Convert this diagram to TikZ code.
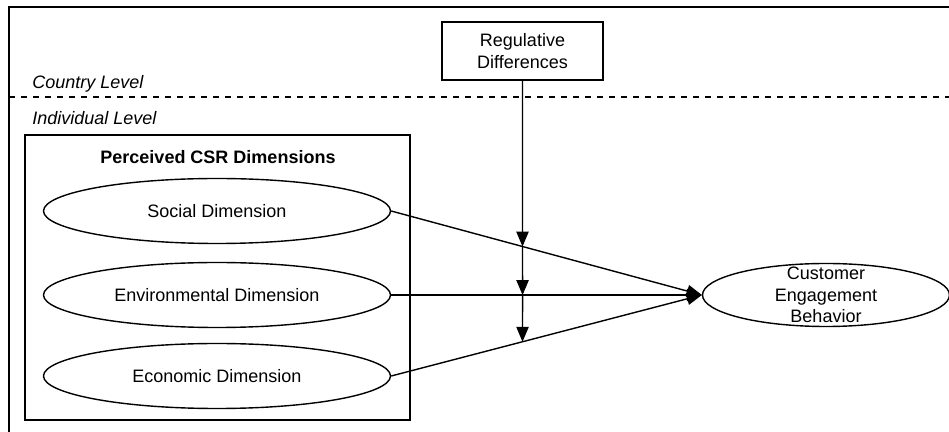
\documentclass[tikz,border=0pt]{standalone}
\usepackage{fontspec}
\setmainfont{Liberation Sans}
\usetikzlibrary{arrows,positioning,shapes.geometric}

\tikzset{
  dimension/.style={ellipse, draw, minimum width=173.5pt, minimum height=32.5pt, inner sep=0pt},
  levellabel/.style={anchor=west, font=\fontsize{9}{10.5}\selectfont\itshape}
}

\begin{document}
\begin{tikzpicture}[x=0.5pt, y=-0.5pt, line width=0.7pt, >=triangle 45,
    font=\fontsize{9}{10.75}\selectfont]
  \useasboundingbox (0,0) rectangle (949,432);

  %Frame and levels
  \draw (949,7) -- (9,7) -- (9,432);
  \draw[dashed] (9,97) -- (949,97);
  \node[levellabel] (country) at (25,84) {Country Level};
  \node[levellabel] (individual) at (25,118) {Individual Level};

  %Moderator
  \node[draw, minimum width=80.5pt, minimum height=29pt, align=center, inner sep=0pt]
    (reg) at (522.5,51) {Regulative\\Differences};

  %CSR dimensions
  \node[draw, minimum width=192.5pt, minimum height=142.5pt] (csr) at (217.5,277.5) {};
  \node[font=\fontsize{9}{10.5}\selectfont\bfseries] (title) at (218,157) {Perceived CSR Dimensions};
  \node[dimension] (soc) at (217,211) {Social Dimension};
  \node[dimension] (env) at (217,295) {Environmental Dimension};
  \node[dimension] (eco) at (217,376) {Economic Dimension};

  %Outcome
  \node[ellipse, draw, minimum width=123.5pt, minimum height=31.5pt, inner sep=0pt,
    label={[align=center, inner sep=0pt]center:Customer\\Engagement\\Behavior}]
    (ceb) at (826,295) {};

  %Paths
  \draw[->] (soc.east) -- (ceb.west);
  \draw[->] (env.east) -- (ceb.west);
  \draw[->] (eco.east) -- (ceb.west);

  \coordinate (vbot) at (reg.south |- csr.south);
  \coordinate (m1) at (intersection of soc.east--ceb.west and reg.south--vbot);
  \coordinate (m2) at (intersection of env.east--ceb.west and reg.south--vbot);
  \coordinate (m3) at (intersection of eco.east--ceb.west and reg.south--vbot);
  \draw[->] (reg.south) -- (m1);
  \draw[->] (m1) -- (m2);
  \draw[->] (m2) -- (m3);
\end{tikzpicture}
\end{document}
